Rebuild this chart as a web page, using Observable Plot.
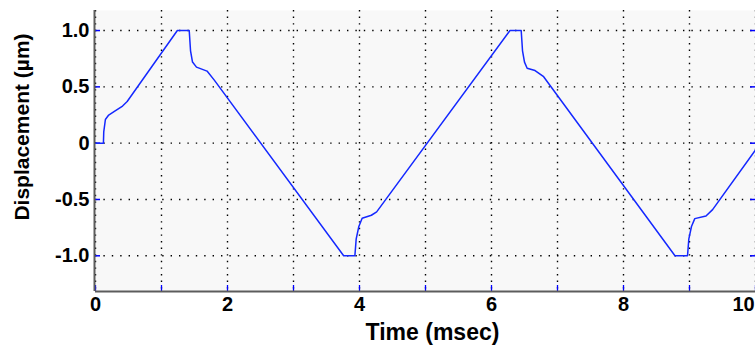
<!DOCTYPE html>
<html>
<head>
<meta charset="utf-8">
<script src="https://cdn.jsdelivr.net/npm/d3@7"></script>
<script src="https://cdn.jsdelivr.net/npm/@observablehq/plot@0.6"></script>
<style>
  html, body { margin: 0; padding: 0; background: #ffffff; }
</style>
</head>
<body>
<div id="chart"></div>
<script>
// Measured displacement trace (time in ms, displacement in µm)
const timeMs = [
  0, 0.12, 0.125, 0.15, 0.2, 0.28, 0.41, 0.48, 1.24, 1.42, 1.44, 1.47, 1.53, 1.69, 1.8,
  3.76, 3.93, 3.95, 3.99, 4.04, 4.18, 4.26,
  6.28, 6.45, 6.47, 6.5, 6.54, 6.66, 6.79,
  8.78, 8.97, 8.99, 9.03, 9.08, 9.25, 9.35, 10.0
];
const displacementUm = [
  0, 0, 0.1, 0.21, 0.25, 0.28, 0.33, 0.37, 1.0, 1.0, 0.82, 0.72, 0.675, 0.64, 0.56,
  -1.0, -1.0, -0.85, -0.74, -0.666, -0.64, -0.61,
  1.0, 1.0, 0.82, 0.72, 0.665, 0.645, 0.59,
  -1.0, -1.0, -0.85, -0.74, -0.67, -0.646, -0.59, -0.06
];

// Axes
const xDomain = [0, 10];
const yDomain = [-1.317, 1.178];
const xTicks = [0, 1, 2, 3, 4, 5, 6, 7, 8, 9, 10];
const xTickLabels = [0, 2, 4, 6, 8, 10];
const yTicks = [-1, -0.5, 0, 0.5, 1];
const yTickLabels = ["-1.0", "-0.5", "0", "0.5", "1.0"];
const xTitle = "Time (msec)";
const yTitle = "Displacement (µm)";

const series = timeMs.map((t, i) => ({t, v: displacementUm[i]}));

const FONT = "'Liberation Sans', Arial, Helvetica, sans-serif";
const BLUE = "#0000ff";
const AXIS = "#5c5c5c";
const labelStyle = {tickSize: 0, tickPadding: 5, fontSize: 20, fontWeight: "bold", label: null};

// the last tick label sits at the right edge, so nudge it inward
const lastX = xTickLabels[xTickLabels.length - 1];

const chart = Plot.plot({
  width: 755,
  height: 347,
  marginLeft: 95,
  marginRight: 0,
  marginTop: 10,
  marginBottom: 56,
  style: {fontFamily: FONT, color: "#000", background: "#ffffff"},
  x: {domain: xDomain, axis: null},
  y: {domain: yDomain, axis: null},
  marks: [
    // plotting area background
    Plot.frame({fill: "#f8f8f8", stroke: "none"}),
    // dotted grid
    Plot.gridX(xTicks, {stroke: "#000", strokeOpacity: 1, strokeWidth: 1.4, strokeDasharray: "1.4,5.2"}),
    Plot.gridY(yTicks, {stroke: "#000", strokeOpacity: 1, strokeWidth: 1.4, strokeDasharray: "1.4,7"}),
    // blue inward tick marks
    Plot.ruleX(xTicks, {x: d => d, stroke: BLUE, strokeWidth: 1.3, insetTop: 275}),
    Plot.ruleY(yTicks, {y: d => d, stroke: BLUE, strokeWidth: 1.5, insetRight: 655}),
    Plot.ruleY(yTicks, {y: d => d, stroke: BLUE, strokeWidth: 1.5, insetLeft: 655}),
    // displacement trace
    Plot.line(series, {x: "t", y: "v", stroke: "#1428ff", strokeWidth: 1.5}),
    // axis lines
    Plot.ruleX([xDomain[0]], {stroke: AXIS, strokeWidth: 2, dx: -1}),
    Plot.ruleY([yDomain[0]], {stroke: AXIS, strokeWidth: 2}),
    // tick labels
    Plot.axisX(xTickLabels.filter(d => d !== lastX), labelStyle),
    Plot.axisX([lastX], {...labelStyle, dx: -12}),
    Plot.axisY(yTicks, {
      tickSize: 0, tickPadding: 6, fontSize: 20, fontWeight: "bold", label: null,
      tickFormat: d => yTickLabels[yTicks.indexOf(d)]
    }),
    // axis titles
    Plot.text([xTitle], {
      frameAnchor: "bottom", dx: 7, dy: 41, fontSize: 23, fontWeight: "bold",
      textAnchor: "middle", lineAnchor: "middle", fill: "#000"
    }),
    Plot.text([yTitle], {
      frameAnchor: "left", rotate: -90, dx: -73, dy: -24, fontSize: 21, fontWeight: "bold",
      textAnchor: "middle", lineAnchor: "middle", fill: "#000"
    })
  ]
});

document.getElementById("chart").appendChild(chart);
</script>
</body>
</html>
